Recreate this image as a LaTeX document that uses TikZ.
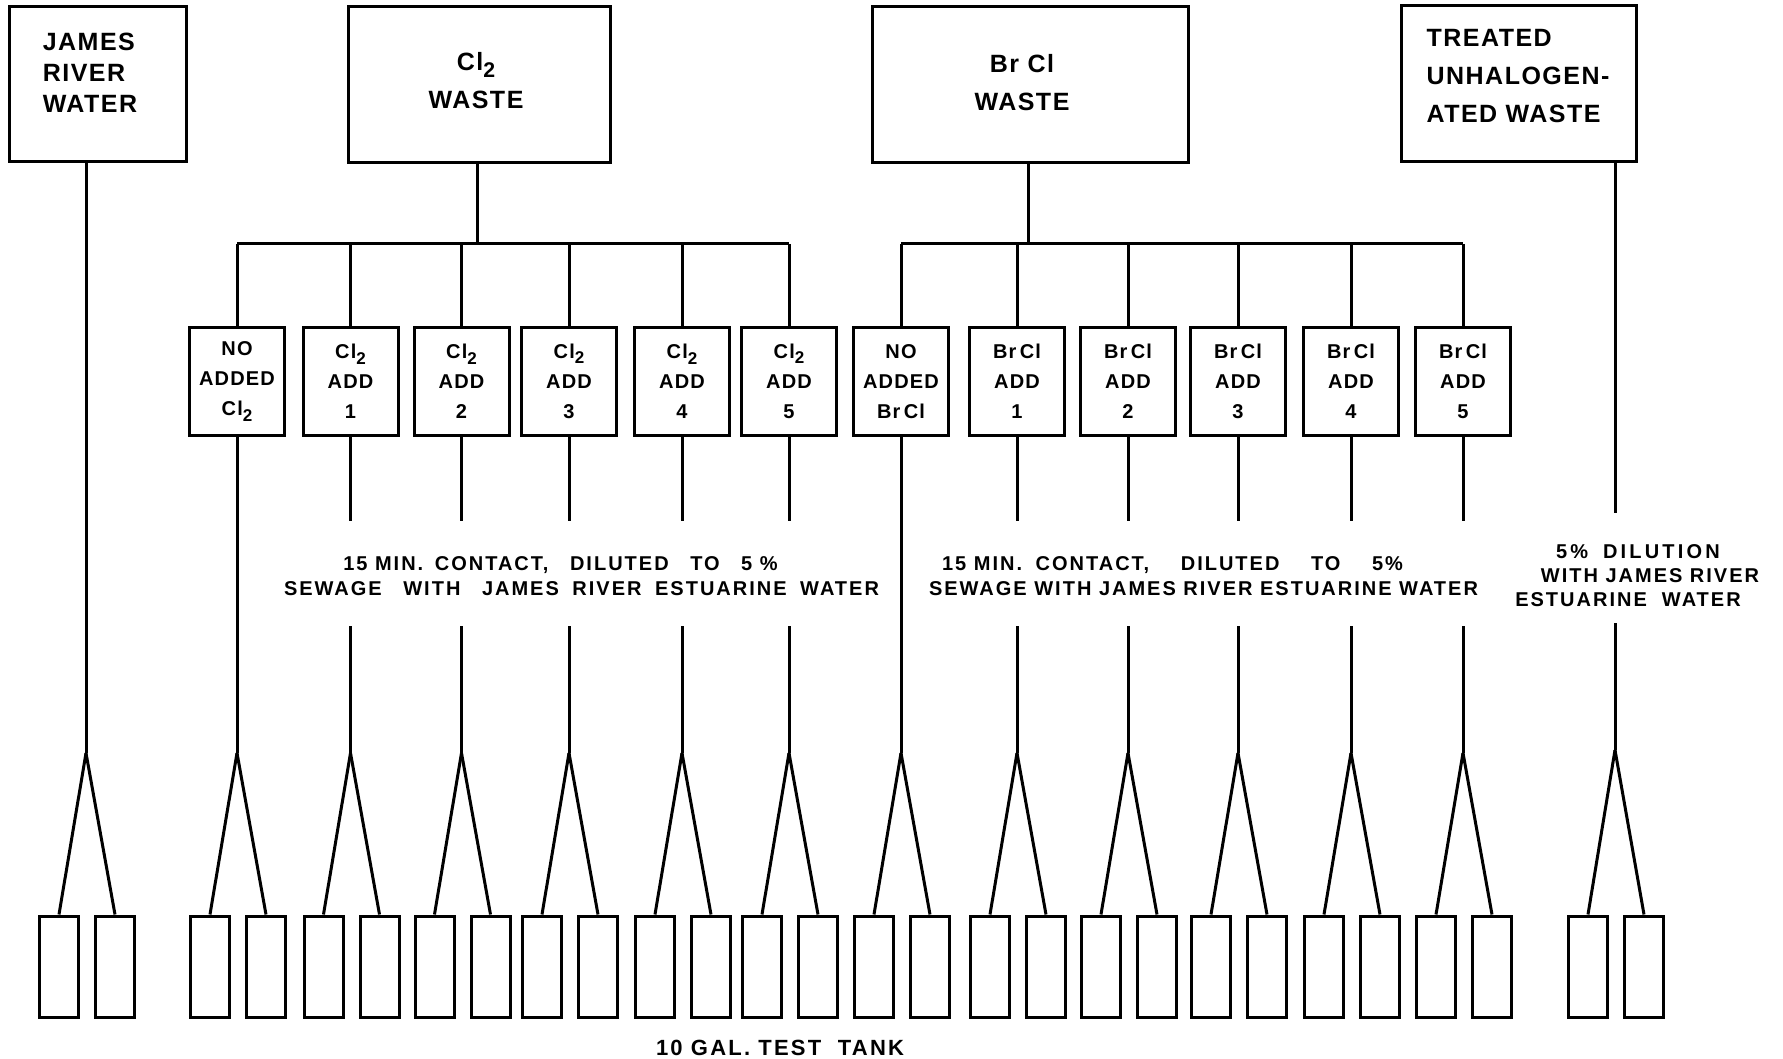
\documentclass[tikz,border=0pt]{standalone}
\usepackage{fontspec}
\newfontfamily\boxfont[LetterSpace=6]{Liberation Sans}
\newfontfamily\notefont[LetterSpace=10]{Liberation Sans}
\usetikzlibrary{positioning,calc}
% chlorine with its lowered 2
\newcommand{\cltwo}{Cl\raisebox{-.5ex}{\scalebox{.85}{2}}}
% wide gap between lettered words
\newcommand{\wsp}[1]{\hspace{#1pt}}

\begin{document}
\begin{tikzpicture}[x=0.5pt, y=-0.5pt,
    pipe/.style={line width=1.5pt},
    source/.style={draw, line width=1.5pt, inner sep=0pt},
    boxtext/.style={inner sep=0pt, align=left,
      font=\boxfont\bfseries\fontsize{12.5}{19}\selectfont},
    dose/.style={draw, line width=1.5pt, align=center, inner sep=0pt,
      minimum width=47.5pt, minimum height=54pt,
      font=\boxfont\bfseries\fontsize{10}{15}\selectfont},
    tank/.style={draw, line width=1.5pt, inner sep=0pt,
      minimum width=19.5pt, minimum height=50.5pt},
    note/.style={align=center, inner sep=0pt,
      font=\notefont\bfseries\fontsize{10}{12.5}\selectfont}]
  \path[use as bounding box, fill=white] (0,0) rectangle (1783,1059);

  %The four sources along the top.
  \node[source, minimum width=88.5pt, minimum height=77.5pt] (james) at (97.5,84.5) {};
  \node[source, minimum width=131pt, minimum height=78pt] (clwaste) at (479,85) {};
  \node[source, minimum width=158pt, minimum height=78pt] (brwaste) at (1030,85) {};
  \node[source, minimum width=117.5pt, minimum height=78pt] (treated) at (1518.5,84) {};
  \node[boxtext, font=\boxfont\bfseries\fontsize{12.5}{15.5}\selectfont] (jamestext) at (90,73) {JAMES\\RIVER\\WATER};
  \node[boxtext, align=center] (cltext) at (476,81) {\cltwo\\WASTE};
  \node[boxtext, align=center] (brtext) at (1022,83) {Br Cl\\WASTE};
  \node[boxtext] (treatedtext) at (1518,76) {TREATED\\UNHALOGEN-\\ATED WASTE};

  %Dosing boxes, six for each halogen.
  \foreach \n/\x/\txt in {cl0/237/{NO\\ADDED\\\cltwo}, cl1/350.5/{\cltwo\\ADD\\1},
      cl2/461.5/{\cltwo\\ADD\\2}, cl3/569/{\cltwo\\ADD\\3}, cl4/682/{\cltwo\\ADD\\4},
      cl5/789/{\cltwo\\ADD\\5}, br0/901/{NO\\ADDED\\Br\,Cl}, br1/1017/{Br\,Cl\\ADD\\1},
      br2/1128/{Br\,Cl\\ADD\\2}, br3/1238/{Br\,Cl\\ADD\\3}, br4/1351/{Br\,Cl\\ADD\\4},
      br5/1463/{Br\,Cl\\ADD\\5}}
    \node[dose] (\n) at (\x,381.5) {\txt};

  %Rows the lines run to.
  \coordinate (clbus) at (477,244);
  \coordinate (brbus) at (1028,244);
  \coordinate (splitrow) at (0,753);
  \coordinate (tankrow) at (0,966.5);
  \coordinate (gaptop) at (0,521);
  \coordinate (gapbot) at (0,626);
  \coordinate (sjames) at (86,753);
  \coordinate (streated) at (1615,750);

  %Waste to the dosing boxes.
  \draw[pipe] (clwaste.south -| clbus) -- (clbus);
  \draw[pipe] (cl0.north |- clbus) -- (cl5.north |- clbus);
  \foreach \n in {cl0,cl1,cl2,cl3,cl4,cl5}
    \draw[pipe] (\n.north |- clbus) -- (\n.north);
  \draw[pipe] (brwaste.south -| brbus) -- (brbus);
  \draw[pipe] (br0.north |- brbus) -- (br5.north |- brbus);
  \foreach \n in {br0,br1,br2,br3,br4,br5}
    \draw[pipe] (\n.north |- brbus) -- (\n.north);

  %Stems down to the splits (broken where the notes sit).
  \foreach \n in {cl0,cl1,cl2,cl3,cl4,cl5,br0,br1,br2,br3,br4,br5}
    \coordinate (s\n) at (\n.south |- splitrow);
  \draw[pipe] (james.south -| sjames) -- (sjames);
  \draw[pipe] (cl0) -- (scl0);
  \draw[pipe] (br0) -- (sbr0);
  \foreach \n in {cl1,cl2,cl3,cl4,cl5,br1,br2,br3,br4,br5}{
    \draw[pipe] (\n) -- (\n.south |- gaptop);
    \draw[pipe] (\n.south |- gapbot) -- (s\n);
  }
  \coordinate (tgaptop) at (0,513);
  \coordinate (tgapbot) at (0,623);
  \draw[pipe] (treated.south -| streated) -- (streated |- tgaptop);
  \draw[pipe] (streated |- tgapbot) -- (streated);

  %Two test tanks under every split.
  \foreach \n in {james,cl0,cl1,cl2,cl3,cl4,cl5,br0,br1,br2,br3,br4,br5,treated}{
    \node[tank] (tl\n) at ($(s\n |- tankrow)+(-27,0)$) {};
    \node[tank] (tr\n) at ($(s\n |- tankrow)+(29,0)$) {};
    \draw[pipe] (s\n) -- (tl\n.north);
    \draw[pipe] (s\n) -- (tr\n.north);
  }

  %Notes.
  \node[note] (clnote) at (581.5,576)
    {15 MIN.\wsp{2} CONTACT,\wsp{7} DILUTED\wsp{7} TO\wsp{7} 5 \%\rule{21pt}{0pt}\\
     SEWAGE\wsp{7} WITH\wsp{7} JAMES\wsp{3} RIVER\wsp{3} ESTUARINE\wsp{3} WATER};
  \node[note] (brnote) at (1203.5,576)
    {15 MIN.\wsp{3} CONTACT,\wsp{12} DILUTED\wsp{12} TO\wsp{12} 5\%\rule{31pt}{0pt}\\
     SEWAGE WITH JAMES RIVER ESTUARINE WATER};
  \node[note, font=\notefont\bfseries\fontsize{10}{12}\selectfont] (trnote) at (1638,576)
    {\addfontfeature{LetterSpace=16}5\%\wsp{3} DILUTION\\\rule{12pt}{0pt}WITH JAMES RIVER\\ESTUARINE\ \ WATER\rule{10pt}{0pt}};
  \node[note, font=\notefont\bfseries\fontsize{11}{12}\selectfont] (tanklabel) at (780,1048)
    {10 GAL.\ TEST\ \ TANK};
\end{tikzpicture}
\end{document}
